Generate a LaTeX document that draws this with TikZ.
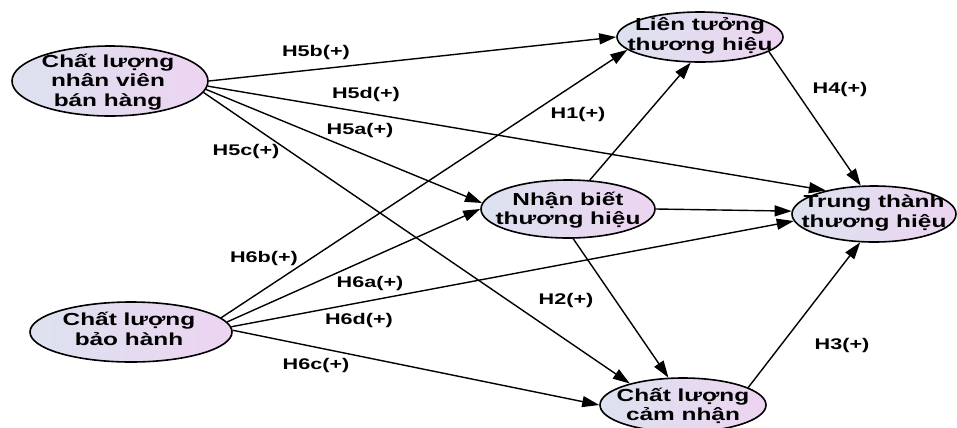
\documentclass[tikz,border=0pt]{standalone}
\usepackage{fontspec}
\setmainfont{Liberation Sans}
\newfontfamily\wfont[FakeStretch=1.4]{Liberation Sans}
\usetikzlibrary{shapes.geometric,arrows.meta}
\definecolor{shL}{HTML}{DCE2EF}
\definecolor{shR}{HTML}{EDD4F1}
\begin{document}
\begin{tikzpicture}[x=1bp,y=-1bp,
  ell/.style={ellipse,draw=black,line width=1.6bp,left color=shL,right color=shR,inner sep=0pt},
  ntext/.style={font=\wfont\bfseries\fontsize{17.5}{19.5}\selectfont,align=center,inner sep=0pt},
  elab/.style={font=\wfont\bfseries\fontsize{15.5}{17}\selectfont,inner sep=0pt},
  arr/.style={line width=1.4bp,-{Triangle[length=17bp,width=11bp]}}]
\useasboundingbox (0,0) rectangle (957,427);
% nodes
\node[ell,minimum width=196bp,minimum height=70bp] (A) at (110,81) {};
\node[ntext] (At) at (108,82) {Chất lượng\\nhân viên\\bán hàng};
\node[ell,minimum width=202bp,minimum height=60bp] (B) at (131,332) {};
\node[ntext] (Bt) at (129,329) {Chất lượng\\bảo hành};
\node[ell,minimum width=166bp,minimum height=50bp] (L) at (700,37) {};
\node[ntext] (Lt) at (700,36) {Liên tưởng\\thương hiệu};
\node[ell,minimum width=174bp,minimum height=58bp] (N) at (568,209) {};
\node[ntext] (Nt) at (568,210) {Nhận biết\\thương hiệu};
\node[ell,minimum width=164bp,minimum height=56bp] (T) at (874,214) {};
\node[ntext] (Tt) at (874,213) {Trung thành\\thương hiệu};
\node[ell,minimum width=166bp,minimum height=54bp] (C) at (683,405) {};
\node[ntext] (Ct) at (683,406) {Chất lượng\\cảm nhận};
% connectors
\draw[arr] (A.0) -- (L.180);
\draw[arr] (A.-3) -- (T.154);
\draw[arr] (A.-5) -- (N.176);
\draw[arr] (A.-7) -- (C.158);
\draw[arr] (B.9) -- (L.190);
\draw[arr] (B.6) -- (N.180);
\draw[arr] (B.3) -- (T.185);
\draw[arr] (B.1) -- (C.180);
\draw[arr] (N.53) -- (L.250);
\draw[arr] (N.0) -- (T.178);
\draw[arr] (N.-80) -- (C.118);
\draw[arr] (L.-12) -- (T.115);
\draw[arr] (C.15) -- (T.244);
% labels
\node[elab] (l5b) at (316,53) {H5b(+)};
\node[elab] (l5d) at (366,95) {H5d(+)};
\node[elab] (l5a) at (360,131) {H5a(+)};
\node[elab] (l5c) at (246,152) {H5c(+)};
\node[elab] (l6b) at (264,258) {H6b(+)};
\node[elab] (l6a) at (370,283) {H6a(+)};
\node[elab] (l6d) at (359,320) {H6d(+)};
\node[elab] (l6c) at (316,365) {H6c(+)};
\node[elab] (l1) at (578,115) {H1(+)};
\node[elab] (l2) at (566,300) {H2(+)};
\node[elab] (l4) at (840,90) {H4(+)};
\node[elab] (l3) at (842,345) {H3(+)};
\end{tikzpicture}
\end{document}
